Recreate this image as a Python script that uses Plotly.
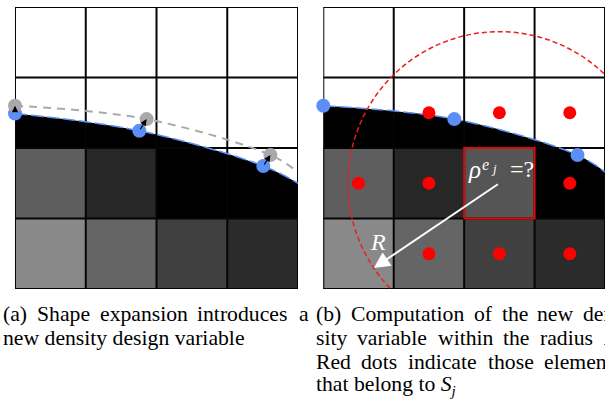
import math
import plotly.graph_objects as go

W, H = 605, 408
N = 4  # elements per side of the mesh patch

# Gray levels (0-255) of the two lower element rows, left to right.
# None marks a fully solid (black) element.
bottom_row_gray = [137, 101, 64, 43]
middle_row_gray_a = [94, 39, None, None]
middle_row_gray_b = [94, 39, 85, None]

# Shape boundary before expansion, and after expansion
boundary_x = [0.0, 1.757, 3.51, 4.0]
boundary_y = [2.49, 2.245, 1.745, 1.50]
expanded_x = [0.0, 1.86, 3.61, 4.0]
expanded_y = [2.60, 2.41, 1.90, 1.66]
n_nodes = 3  # boundary control nodes drawn as dots

# Elements (column, row from bottom) whose centroid lies in the filter set S_j
member_cols = [1, 2, 3, 0, 1, 3, 1, 2, 3]
member_rows = [2, 2, 2, 1, 1, 1, 0, 0, 0]
target_col, target_row = 2, 1
filter_radius = 2.15
radius_angle_deg = 214

BLUE = "#5b8ff5"
NODE_GRAY = "#a9a9a9"
RED = "#ff0000"
SERIF = "Liberation Serif, Times New Roman, serif"


def px(x):
    return x / W


def py(y):
    return 1 - y / H


fig = go.Figure()


def add(trace, panel):
    trace.update(xaxis="x" if panel == 0 else "x2", yaxis="y" if panel == 0 else "y2",
                 hoverinfo="skip", showlegend=False)
    fig.add_trace(trace)


def cell(col, row, gray, panel):
    c = f"rgb({gray},{gray},{gray})"
    add(go.Scatter(x=[col, col + 1, col + 1, col, col], y=[row, row, row + 1, row + 1, row],
                   mode="lines", line=dict(width=0, color=c), fill="toself", fillcolor=c), panel)


def grid(panel):
    gx, gy = [], []
    for i in range(N + 1):
        gx += [i, i, None, 0, N, None]
        gy += [0, N, None, i, i, None]
    add(go.Scatter(x=gx, y=gy, mode="lines", line=dict(color="#050505", width=2)), panel)


def solid_region(xs, ys, panel):
    add(go.Scatter(x=xs, y=ys, mode="lines", line=dict(width=0, color="black", shape="spline"),
                   fill="tozeroy", fillcolor="black"), panel)


def boundary_line(xs, ys, panel):
    add(go.Scatter(x=xs, y=ys, mode="lines",
                   line=dict(color=BLUE, width=1.5, dash="12px,4px", shape="spline")), panel)


def nodes(xs, ys, color, size, panel):
    add(go.Scatter(x=xs, y=ys, mode="markers", cliponaxis=False,
                   marker=dict(size=size, color=color)), panel)


def lower_cells(middle_row, panel):
    for c, g in enumerate(bottom_row_gray):
        cell(c, 0, g, panel)
    for c, g in enumerate(middle_row):
        if g is not None:
            cell(c, 1, g, panel)


# ---------- panel (a): shape expansion ----------
solid_region(boundary_x, boundary_y, 0)
lower_cells(middle_row_gray_a, 0)
grid(0)
add(go.Scatter(x=expanded_x, y=expanded_y, mode="lines",
               line=dict(color="#aaaaaa", width=2, dash="8px,6px", shape="spline")), 0)
boundary_line(boundary_x, boundary_y, 0)
nodes(boundary_x[:n_nodes], boundary_y[:n_nodes], BLUE, 14, 0)
nodes(expanded_x[:n_nodes], expanded_y[:n_nodes], NODE_GRAY, 14, 0)
for i in range(n_nodes):
    fig.add_annotation(x=expanded_x[i], y=expanded_y[i], ax=boundary_x[i], ay=boundary_y[i],
                       xref="x", yref="y", axref="x", ayref="y", text="", showarrow=True,
                       arrowhead=2, arrowsize=1, arrowwidth=1.3, arrowcolor="black", standoff=0)

# ---------- panel (b): density of the new element ----------
solid_region(expanded_x, expanded_y, 1)
lower_cells(middle_row_gray_b, 1)
grid(1)
add(go.Scatter(x=[target_col, target_col + 1, target_col + 1, target_col, target_col],
               y=[target_row, target_row, target_row + 1, target_row + 1, target_row],
               mode="lines", line=dict(color="#dd0a0a", width=2)), 1)
boundary_line(expanded_x, expanded_y, 1)
nodes([c + 0.5 for c in member_cols], [r + 0.5 for r in member_rows], RED, 13, 1)
nodes(expanded_x[:n_nodes], expanded_y[:n_nodes], BLUE, 14, 1)

cx, cy = target_col + 0.5, target_row + 0.5
fig.add_shape(type="circle", xref="x2", yref="y2",
              x0=cx - filter_radius, x1=cx + filter_radius,
              y0=cy - filter_radius, y1=cy + filter_radius,
              line=dict(color="#ee1c1c", width=1.5, dash="5px,3px"), layer="above")
ang = math.radians(radius_angle_deg)
fig.add_annotation(x=cx + filter_radius * math.cos(ang), y=cy + filter_radius * math.sin(ang),
                   ax=cx, ay=cy, xref="x2", yref="y2", axref="x2", ayref="y2", text="",
                   showarrow=True, arrowhead=2, arrowsize=1.6, arrowwidth=2, arrowcolor="white",
                   standoff=0)


def label(text, x, y, size, color="black", anchor="left"):
    fig.add_annotation(x=px(x), y=py(y), xref="paper", yref="paper", text=text, showarrow=False,
                       xanchor=anchor, yanchor="middle",
                       font=dict(family=SERIF, size=size, color=color))


label("<i>R</i>", 378, 242, 24, "white", "center")
label("<i>ρ</i>", 474.7, 169, 25, "white", "center")
label("<i>e</i>", 485.5, 164.6, 16, "white", "center")
label("<i>j</i>", 493.5, 168.6, 13, "white", "center")
label("=?", 521.5, 169.2, 24, "white", "center")

# ---------- sub-captions (justified lines) ----------
caption_lines = [
    (313.6, [("(a)", 1), ("Shape", 34.7), ("expansion", 97.8), ("introduces", 195.3), ("a", 297.3)]),
    (337.6, [("new density design variable", 1)]),
    (313.6, [("(b)", 314), ("Computation", 348.6), ("of", 472.4), ("the", 499.6), ("new", 535.4),
             ("den-", 581.0)]),
    (337.6, [("sity", 314), ("variable", 355.3), ("within", 435.7), ("the", 501.4), ("radius", 537.8),
             ("<i>R</i>.", 601.1)]),
    (361.6, [("Red", 314), ("dots", 359.3), ("indicate", 405.9), ("those", 485.5),
             ("elements", 541.8)]),
    (385.6, [("that belong to <i>S</i><sub><i>j</i></sub>", 314)]),
]
for yc, words in caption_lines:
    for w, x in words:
        label(w, x, yc, 21.7)

axis = dict(visible=False, range=[0, N], fixedrange=True)
fig.update_layout(
    width=W, height=H, margin=dict(l=0, r=0, t=0, b=0),
    paper_bgcolor="white", plot_bgcolor="white", showlegend=False,
    xaxis=dict(axis, domain=[15 / W, 298 / W]),
    yaxis=dict(axis, domain=[1 - 289 / H, 1 - 7 / H]),
    xaxis2=dict(axis, domain=[323.3 / W, 1]),
    yaxis2=dict(axis, domain=[1 - 289 / H, 1 - 7 / H], anchor="x2"),
)
fig.write_html("out.html")
